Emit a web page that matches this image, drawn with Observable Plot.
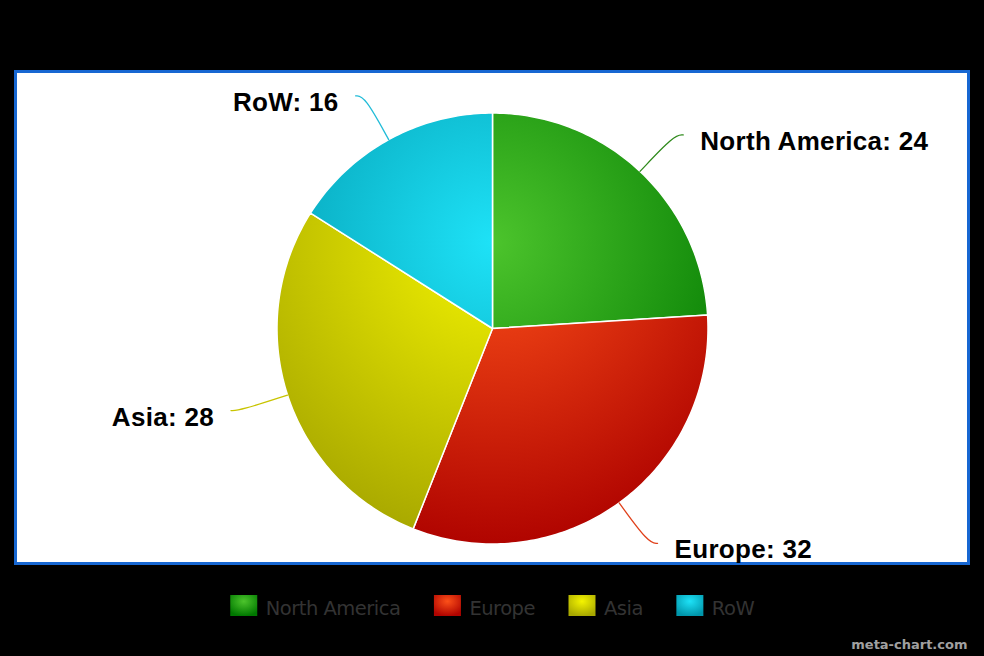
<!DOCTYPE html>
<html><head><meta charset="utf-8">
<script src="https://cdn.jsdelivr.net/npm/d3@7"></script>
<script src="https://cdn.jsdelivr.net/npm/@observablehq/plot@0.6"></script>
<style>
html,body{margin:0;padding:0;background:#000;}
#chart{width:984px;height:656px;overflow:hidden;}
</style></head><body><div id="chart"></div>
<script>
// ---- data ----
const categories = ["North America", "Europe", "Asia", "RoW"];
const values = [24, 32, 28, 16];
const baseColors = ["#4cc42c", "#fc5019", "#f4f400", "#1ee2f7"];
const connectorColors = ["#2f8a1c", "#e0401a", "#c8c400", "#22bcd8"];
const credit = "meta-chart.com";

// ---- layout ----
const W = 984, H = 656;
const cx = 492, cy = 328, R = 215.5;
const box = {x1: 15.5, x2: 968.5, y1: 71.5, y2: 563.5};

function darken(c) {
  const k = 76.5, r = d3.rgb(c);
  return d3.rgb(Math.max(0, r.r - k), Math.max(0, r.g - k), Math.max(0, r.b - k)).formatHex();
}

const total = d3.sum(values);
const pt = (a, r) => ({x: cx + r * Math.sin(a), y: cy - r * Math.cos(a)});
let acc = 0;
const slices = categories.map((name, i) => {
  const a0 = acc / total * 2 * Math.PI; acc += values[i];
  const a1 = acc / total * 2 * Math.PI;
  const mid = (a0 + a1) / 2;
  const n = Math.max(2, Math.ceil((a1 - a0) / (Math.PI / 180)));
  const points = [{x: cx, y: cy}];
  for (let k = 0; k <= n; k++) points.push(pt(a0 + (a1 - a0) * k / n, R));
  points.push({x: cx, y: cy});
  const side = Math.sin(mid) >= 0 ? 1 : -1;
  const A = pt(mid, R), B = pt(mid, R + 50), C = {x: B.x + side * 9, y: B.y};
  const connector = [A, B, C].map(p => ({...p, name}));
  const label = {x: C.x + side * 17, y: B.y + 15, text: `${name}: ${values[i]}`, anchor: side > 0 ? "start" : "end"};
  return {name, i, value: values[i], points, connector, label};
});

// legend layout from measured text widths
const legendFont = 19.5;
const ctx = document.createElement("canvas").getContext("2d");
ctx.font = `${legendFont}px 'DejaVu Sans'`;
const ls = -0.5;
const sw = 27, swGap = 8, itemGap = 34;
const widths = categories.map(c => ctx.measureText(c).width + ls * c.length);
const totalW = d3.sum(widths) + categories.length * (sw + swGap) + itemGap * (categories.length - 1);
let lx = cx - totalW / 2;
const legend = categories.map((name, i) => {
  const it = {name, i, x1: lx, x2: lx + sw, tx: lx + sw + swGap};
  lx += sw + swGap + widths[i] + itemGap;
  return it;
});

const marks = [
  Plot.rect([box], {x1: "x1", x2: "x2", y1: "y1", y2: "y2", fill: "#fff", stroke: "#1767d2", strokeWidth: 3}),
  ...slices.map(s => Plot.line(s.points, {x: "x", y: "y", fill: `url(#pg${s.i})`, stroke: "#fff", strokeWidth: 1.5, strokeLinejoin: "round"})),
  ...slices.map(s => Plot.line(s.connector, {x: "x", y: "y", curve: "basis", stroke: connectorColors[s.i], strokeWidth: 1.3})),
  ...slices.map(s => Plot.text([s.label], {x: "x", y: "y", text: "text", textAnchor: s.label.anchor, lineAnchor: "bottom",
      fontFamily: "'Liberation Sans', Arial, sans-serif", fontWeight: "bold", fontSize: 26, fill: "#000"})),
  Plot.rect(legend, {x1: "x1", x2: "x2", y1: () => 595, y2: () => 616, fill: d => `url(#lg${d.i})`}),
  Plot.text(legend, {x: "tx", y: () => 614, text: "name", textAnchor: "start", lineAnchor: "bottom",
      fontFamily: "'DejaVu Sans', sans-serif", fontSize: legendFont, fill: "#333"}),
  Plot.text([{x: 967, y: 648, t: credit}], {x: "x", y: "y", text: "t", textAnchor: "end", lineAnchor: "bottom",
      fontFamily: "'DejaVu Sans', sans-serif", fontWeight: "bold", fontSize: 13, fill: "#a0a0a0"})
];

const svg = Plot.plot({
  width: W, height: H, margin: 0,
  x: {domain: [0, W], range: [0, W], axis: null},
  y: {domain: [0, H], range: [0, H], axis: null},
  color: {type: "identity"},
  style: {background: "#000", overflow: "visible"},
  marks
});

const defs = d3.select(svg).insert("defs", ":first-child");
baseColors.forEach((c, i) => {
  const g = defs.append("radialGradient").attr("id", `pg${i}`).attr("gradientUnits", "userSpaceOnUse")
    .attr("cx", cx).attr("cy", cy - R + 0.3 * 2 * R).attr("r", 0.7 * 2 * R);
  g.append("stop").attr("offset", 0).attr("stop-color", c);
  g.append("stop").attr("offset", 1).attr("stop-color", darken(c));
  const l = defs.append("radialGradient").attr("id", `lg${i}`)
    .attr("cx", 0.5).attr("cy", 0.3).attr("r", 0.7);
  l.append("stop").attr("offset", 0).attr("stop-color", c);
  l.append("stop").attr("offset", 1).attr("stop-color", darken(c));
});
d3.select(svg).selectAll("text").filter(function() { return this.textContent && categories.includes(this.textContent); })
  .attr("letter-spacing", ls);
d3.select(svg).selectAll("text").filter(function() { return /: \d+$/.test(this.textContent || ""); })
  .attr("letter-spacing", 0.3);

document.getElementById("chart").appendChild(svg);
</script></body></html>
